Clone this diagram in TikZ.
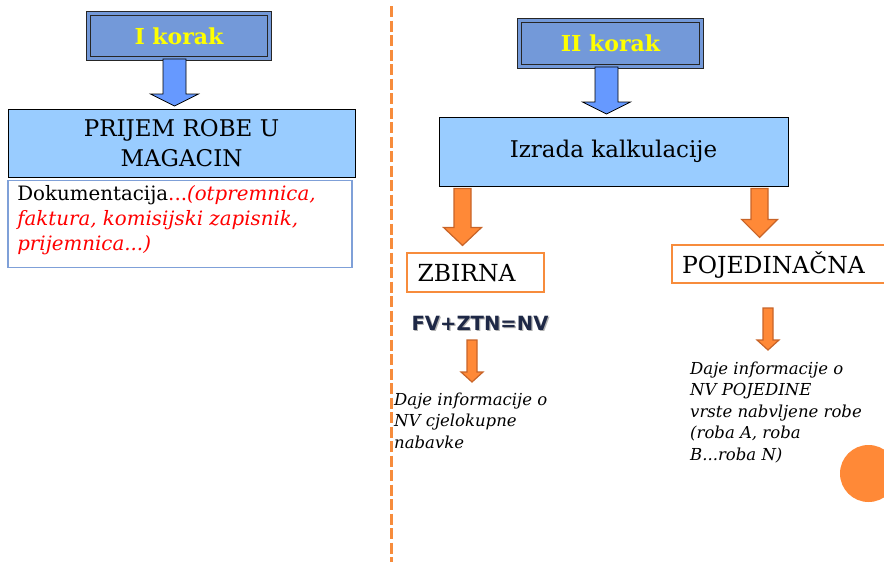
\documentclass[tikz,border=0pt]{standalone}
\usepackage{fontspec}
\setmainfont{DejaVu Serif}
\newfontfamily\fvfont{DejaVu Sans}
\usetikzlibrary{calc}
\definecolor{korakblue}{RGB}{115,153,217}
\definecolor{lightbox}{RGB}{153,204,255}
\definecolor{arrowblue}{RGB}{102,153,255}
\definecolor{dokborder}{RGB}{127,160,216}
\definecolor{orangeline}{RGB}{247,140,60}
\definecolor{orangefill}{RGB}{255,137,55}
\definecolor{orangedark}{RGB}{200,100,40}
\definecolor{korakyellow}{RGB}{255,255,0}
\definecolor{fvnavy}{RGB}{30,40,70}
\definecolor{dokred}{RGB}{255,0,0}
\newcommand\barrow[7][]{%
  \draw[#1] ($(#2)+(-#4,0)$) -- ($(#2)+(-#4,#3-#6)$) -- ($(#2)+(-#5,#3-#6)$)
   -- ($(#2)+(0,#3)$) -- ($(#2)+(#5,#3-#6)$) -- ($(#2)+(#4,#3-#6)$)
   -- ($(#2)+(#4,0)$) -- cycle;}
\tikzset{
  korak/.style={draw=black!85, line width=1pt, double=korakblue, double distance=2.2pt,
    fill=korakblue, inner sep=0pt, font=\fontsize{22}{26}\selectfont\bfseries, text=korakyellow},
  mainbox/.style={draw=black, line width=0.9pt, fill=lightbox, inner sep=0pt, align=center,
    font=\fontsize{23}{30}\selectfont},
  orbox/.style={fill=white, inner sep=0pt},
  orborder/.style={draw=orangeline, line width=1.8pt},
  ortext/.style={anchor=west, inner sep=0pt, font=\fontsize{23.5}{26}\selectfont},
  bluearrow/.style={draw=black, line width=0.8pt, fill=arrowblue, line join=miter},
  orarrow/.style={draw=orangedark, line width=1.2pt, fill=orangefill, line join=miter},
  note/.style={anchor=north west, inner sep=0pt, align=left,
    font=\fontsize{16.5}{21.5}\selectfont\itshape},
}
\begin{document}
\begin{tikzpicture}[x=1pt,y=-1pt]
\useasboundingbox (0,0) rectangle (884,562);
\begin{scope}
\clip (0,0) rectangle (884,562);
% separator
\draw[orangeline, line width=3.5pt, dash pattern=on 11pt off 3.5pt] (391.5,6) -- (391.5,562);

% right column
\node[korak, minimum width=182pt, minimum height=46pt] (k2) at (610.5,43.5) {II korak};
\node[mainbox, minimum width=349pt, minimum height=69pt] (iz) at (613.5,151.5)
  {Izrada kalkulacije};
\coordinate (a2) at ($(k2.south)+(-4,0)$);
\barrow[bluearrow]{a2}{47}{11.5}{24}{12}{}

\node[orbox, minimum width=136pt, minimum height=38pt] (zb) at (475.5,272.5) {};
\draw[orborder] (zb.north west) rectangle (zb.south east);
\node[ortext] (zbt) at ($(zb.west)+(10,1)$) {ZBIRNA};
\node[orbox, minimum width=216pt, minimum height=38pt] (po) at (780,264) {};
\draw[orborder] (po.north west) rectangle (po.south east);
\node[ortext] (pot) at ($(po.west)+(10,1)$) {POJEDINAČNA};

\coordinate (a3) at ($(iz.south west)+(24,2)$);
\barrow[orarrow]{a3}{57}{8.5}{19}{18}{}
\coordinate (a4) at ($(iz.south west)+(321,2)$);
\barrow[orarrow]{a4}{49}{8.5}{18}{18}{}

\node[inner sep=0pt, font=\fvfont\bfseries\fontsize{19.6}{24}\selectfont, text=black!30] (fvs) at (481.2,324.2) {FV+ZTN=NV};
\node[inner sep=0pt, font=\fvfont\bfseries\fontsize{19.6}{24}\selectfont, text=fvnavy] (fv) at (480,323) {FV+ZTN=NV};

\coordinate (a5) at (472,340);
\barrow[orarrow]{a5}{42}{5}{11}{10}{}
\node[note] (n1) at (394,392.5) {Daje informacije o\\NV cjelokupne\\nabavke};

\coordinate (a6) at (768,308);
\barrow[orarrow]{a6}{42}{5}{11}{10}{}
\node[note] (n2) at (690,361.5) {Daje informacije o\\NV POJEDINE\\vrste nabvljene robe\\(roba A, roba\\B...roba N)};

\fill[orangefill] (868.5,473.5) circle (28.5);

% left column
\node[korak, minimum width=181pt, minimum height=45pt] (k1) at (179,36) {I korak};
\node[mainbox, minimum width=347pt, minimum height=68pt] (p1) at (181.5,143)
  {PRIJEM ROBE U\\MAGACIN};
\node[draw=dokborder, line width=1.8pt, fill=white, minimum width=344pt, minimum height=87pt,
  inner sep=0pt] (d1) at (180,224) {};
\node[anchor=north west, inner sep=0pt, align=left, font=\fontsize{19.8}{25}\selectfont]
  (d1t) at ($(d1.north west)+(10,6)$)
  {Dokumentacija\textcolor{dokred}{...\itshape(otpremnica,}\\
   \textcolor{dokred}{\itshape faktura, komisijski zapisnik,}\\
   \textcolor{dokred}{\itshape prijemnica...)}};
\coordinate (a1) at ($(k1.south)+(-4.5,0)$);
\barrow[bluearrow]{a1}{47}{11.5}{24}{12}{}
\end{scope}
\end{tikzpicture}
\end{document}
